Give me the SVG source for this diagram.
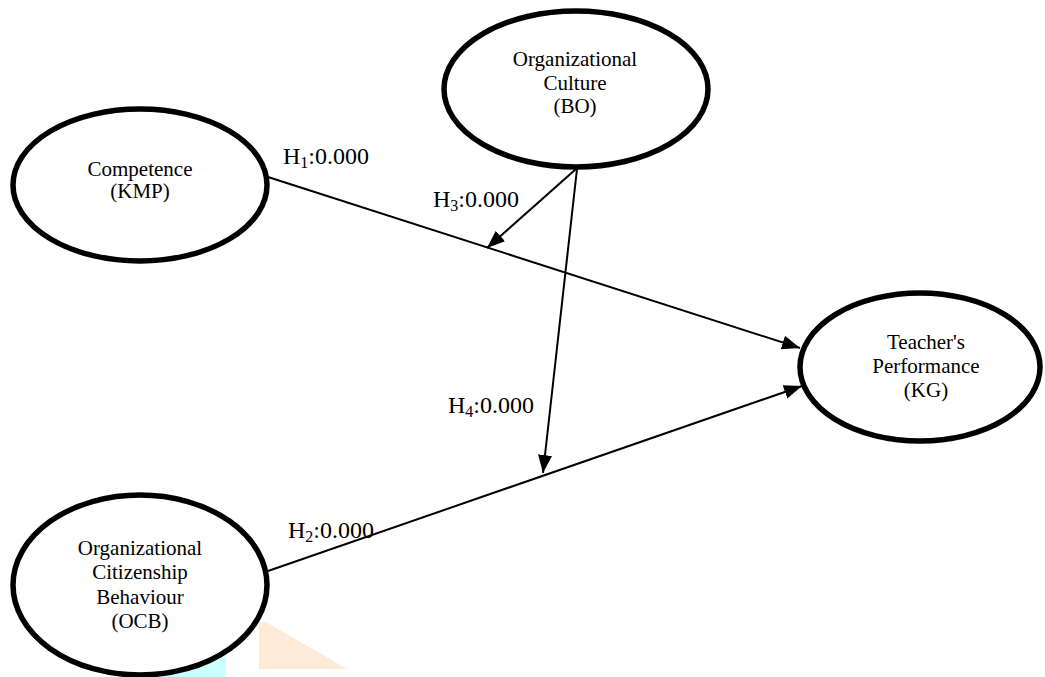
<svg xmlns="http://www.w3.org/2000/svg" width="1045" height="677" viewBox="0 0 1045 677">
<style>
.node{fill:#fff;stroke:#000;stroke-width:5.5}
.nt{font-family:"Liberation Serif","Times New Roman",serif;font-size:21px;fill:#000;text-anchor:middle}
.lbl{font-family:"Liberation Serif","Times New Roman",serif;font-size:24px;fill:#000}
.sub{font-size:16px}
.edge{stroke:#000;stroke-width:2;fill:none}
</style>
<defs>
<marker id="arr" markerUnits="userSpaceOnUse" markerWidth="20" markerHeight="16" viewBox="0 0 20 16" refX="18" refY="8" orient="auto">
<path d="M0,1 L18,8 L0,15 Z" fill="#000"/>
</marker>
</defs>
<rect width="1045" height="677" fill="#fff"/>
<g id="decor">
<rect x="160" y="657" width="66" height="20" fill="#ccffff"/>
<polygon points="259,622 266,622 347,669 259,669" fill="#fdebd8"/>
</g>
<g id="connectors">
<line class="edge" x1="268" y1="177" x2="800" y2="348" marker-end="url(#arr)"/>
<line class="edge" x1="268" y1="571" x2="802" y2="386" marker-end="url(#arr)"/>
<line class="edge" x1="576" y1="169" x2="487" y2="248" marker-end="url(#arr)"/>
<line class="edge" x1="577" y1="169" x2="543" y2="473" marker-end="url(#arr)"/>
<text class="lbl" x="283" y="164">H<tspan class="sub" dy="4">1</tspan><tspan dy="-4">:0.000</tspan></text>
<text class="lbl" x="433" y="207">H<tspan class="sub" dy="4">3</tspan><tspan dy="-4">:0.000</tspan></text>
<text class="lbl" x="448" y="413">H<tspan class="sub" dy="4">4</tspan><tspan dy="-4">:0.000</tspan></text>
<text class="lbl" x="288" y="538">H<tspan class="sub" dy="4">2</tspan><tspan dy="-4">:0.000</tspan></text>
</g>
<g id="competence">
<ellipse class="node" cx="140" cy="185" rx="127" ry="76"/>
<text class="nt" x="140" y="176">Competence</text>
<text class="nt" x="140" y="198">(KMP)</text>
</g>
<g id="culture">
<ellipse class="node" cx="576" cy="89" rx="132" ry="78"/>
<text class="nt" x="575" y="66">Organizational</text>
<text class="nt" x="575" y="90">Culture</text>
<text class="nt" x="575" y="113">(BO)</text>
</g>
<g id="performance">
<ellipse class="node" cx="920" cy="367" rx="120" ry="74"/>
<text class="nt" x="926" y="349">Teacher's</text>
<text class="nt" x="926" y="373">Performance</text>
<text class="nt" x="926" y="397">(KG)</text>
</g>
<g id="ocb">
<ellipse class="node" cx="140" cy="585" rx="127" ry="90"/>
<text class="nt" x="140" y="555">Organizational</text>
<text class="nt" x="140" y="579">Citizenship</text>
<text class="nt" x="140" y="604">Behaviour</text>
<text class="nt" x="140" y="628">(OCB)</text>
</g>
</svg>
